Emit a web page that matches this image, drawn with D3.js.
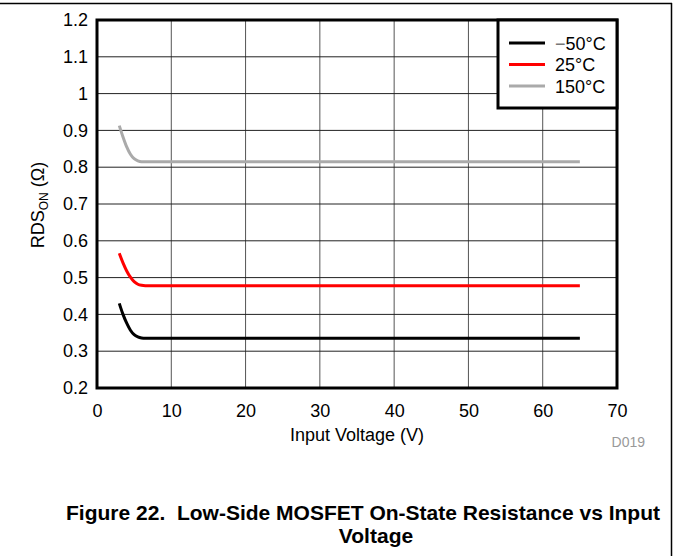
<!DOCTYPE html>
<html>
<head>
<meta charset="utf-8">
<script src="https://cdn.jsdelivr.net/npm/d3@7"></script>
<style>
  body { margin: 0; background: #fff; }
  text { font-family: "Liberation Sans", Arial, sans-serif; }
</style>
</head>
<body>
<div id="chart"></div>
<script>
// values
var voltage = [3, 3.5, 4, 4.5, 5, 5.5, 6, 6.5, 10, 20, 30, 40, 50, 60, 65];
var rdsCold = [0.430, 0.400, 0.376, 0.357, 0.345, 0.339, 0.336, 0.335, 0.335, 0.335, 0.335, 0.335, 0.335, 0.335, 0.335];
var rdsRoom = [0.566, 0.540, 0.518, 0.501, 0.489, 0.482, 0.479, 0.478, 0.478, 0.478, 0.478, 0.478, 0.478, 0.478, 0.478];
var rdsHot  = [0.913, 0.882, 0.855, 0.835, 0.823, 0.817, 0.815, 0.815, 0.815, 0.815, 0.815, 0.815, 0.815, 0.815, 0.815];
var seriesNames = ["\u221250\u00b0C", "25\u00b0C", "150\u00b0C"];
var seriesColors = ["#000000", "#ff0000", "#aaaaaa"];
var xTicks = [0, 10, 20, 30, 40, 50, 60, 70];
var yTicks = [0.2, 0.3, 0.4, 0.5, 0.6, 0.7, 0.8, 0.9, 1, 1.1, 1.2];

var width = 673, height = 556;
// plot box (can't call it "top", window.top is taken)
var pLeft = 97, pTop = 20, pRight = 617, pBottom = 388;

var svg = d3.select("#chart").append("svg")
    .attr("width", width)
    .attr("height", height);

// page frame
svg.append("line").attr("x1", 0).attr("x2", 672).attr("y1", 3.5).attr("y2", 3.5)
    .attr("stroke", "#000").attr("stroke-width", 1.5);
svg.append("line").attr("x1", 671.5).attr("x2", 671.5).attr("y1", 3).attr("y2", height)
    .attr("stroke", "#000").attr("stroke-width", 1.5);

var x = d3.scaleLinear().domain([0, 70]).range([pLeft, pRight]);
var y = d3.scaleLinear().domain([0.2, 1.2]).range([pBottom, pTop]);

// grid
svg.append("g").selectAll("line")
    .data(xTicks.slice(1, -1))
    .enter().append("line")
    .attr("x1", d => x(d)).attr("x2", d => x(d))
    .attr("y1", pTop).attr("y2", pBottom)
    .attr("stroke", "#555").attr("stroke-width", 1);
svg.append("g").selectAll("line")
    .data(yTicks.slice(1, -1))
    .enter().append("line")
    .attr("x1", pLeft).attr("x2", pRight)
    .attr("y1", d => y(d)).attr("y2", d => y(d))
    .attr("stroke", "#222").attr("stroke-width", 1);

// tick labels
var xAxis = d3.axisBottom(x).tickValues(xTicks).tickSize(0).tickPadding(16);
var gx = svg.append("g").attr("transform", "translate(0," + pBottom + ")").call(xAxis);
gx.select(".domain").remove();
gx.selectAll("text").attr("font-size", 18).attr("fill", "#000")
    .attr("font-family", "Liberation Sans, Arial, sans-serif");

var yAxis = d3.axisLeft(y).tickValues(yTicks).tickSize(0).tickPadding(9)
    .tickFormat(d3.format("~g"));
var gy = svg.append("g").attr("transform", "translate(" + pLeft + ",0)").call(yAxis);
gy.select(".domain").remove();
gy.selectAll("text").attr("font-size", 18).attr("fill", "#000")
    .attr("font-family", "Liberation Sans, Arial, sans-serif");

// curves
var line = d3.line()
    .x(d => x(d[0]))
    .y(d => y(d[1]))
    .curve(d3.curveMonotoneX);

var allSeries = [rdsCold, rdsRoom, rdsHot];
allSeries.forEach(function(vals, i) {
    svg.append("path")
        .datum(voltage.map((v, j) => [v, vals[j]]))
        .attr("d", line)
        .attr("fill", "none")
        .attr("stroke", seriesColors[i])
        .attr("stroke-width", 3);
});

// plot frame
svg.append("rect")
    .attr("x", pLeft).attr("y", pTop)
    .attr("width", pRight - pLeft).attr("height", pBottom - pTop)
    .attr("fill", "none").attr("stroke", "#000").attr("stroke-width", 3);

// legend
var lg = svg.append("g");
lg.append("rect")
    .attr("x", 498).attr("y", pTop).attr("width", pRight - 498).attr("height", 108 - pTop)
    .attr("fill", "#fff").attr("stroke", "#000").attr("stroke-width", 3);
seriesNames.forEach(function(name, i) {
    var ly = 43 + i * 21.5;
    lg.append("line")
        .attr("x1", 509).attr("x2", 545).attr("y1", ly).attr("y2", ly)
        .attr("stroke", seriesColors[i]).attr("stroke-width", 3);
    var t = lg.append("text")
        .attr("x", 555).attr("y", ly + 6.5)
        .attr("font-size", 18).attr("fill", "#000");
    if (name[0] === "\u2212") {
        t.append("tspan").attr("fill", "#777").text(name[0]);
        t.append("tspan").text(name.slice(1));
    } else {
        t.text(name);
    }
});

// axis titles
svg.append("text")
    .attr("x", 357).attr("y", 441)
    .attr("text-anchor", "middle").attr("font-size", 18)
    .text("Input Voltage (V)");

var yt = svg.append("text")
    .attr("transform", "translate(44,205) rotate(-90)")
    .attr("text-anchor", "middle").attr("font-size", 18);
yt.append("tspan").text("RDS");
yt.append("tspan").attr("font-size", 12).attr("dy", 4).text("ON");
yt.append("tspan").attr("dy", -4).text(" (\u03a9)");

svg.append("text")
    .attr("x", 645).attr("y", 447)
    .attr("text-anchor", "end").attr("font-size", 14).attr("fill", "#999")
    .text("D019");

// caption
svg.append("text")
    .attr("x", 363).attr("y", 520)
    .attr("text-anchor", "middle").attr("font-size", 21).attr("font-weight", "bold")
    .style("white-space", "pre")
    .text("Figure 22.  Low-Side MOSFET On-State Resistance vs Input");
svg.append("text")
    .attr("x", 376).attr("y", 543)
    .attr("text-anchor", "middle").attr("font-size", 21).attr("font-weight", "bold")
    .text("Voltage");
</script>
</body>
</html>
